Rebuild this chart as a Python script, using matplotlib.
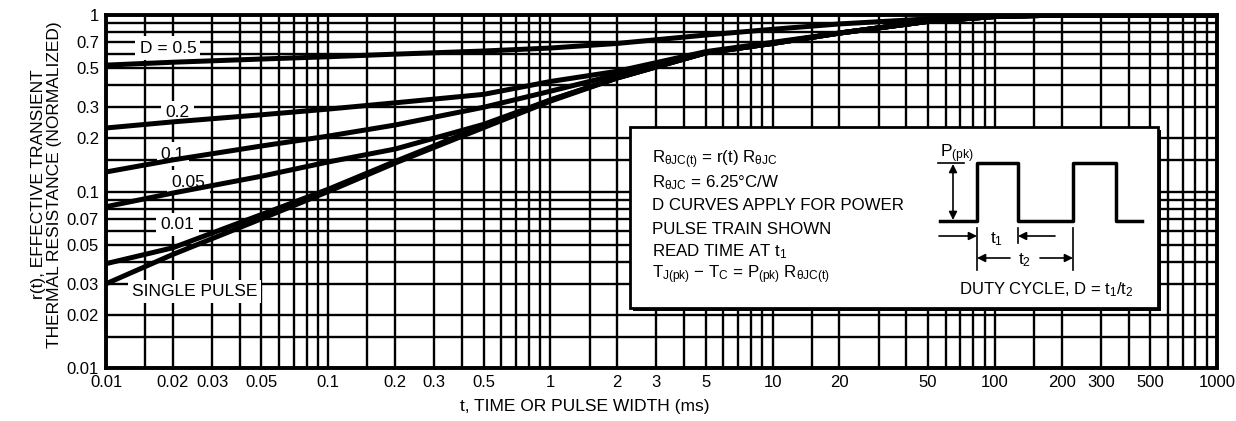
import numpy as np
import matplotlib.pyplot as plt
from matplotlib.ticker import NullFormatter
from matplotlib.patches import Rectangle

plt.rcParams['font.family'] = ['Liberation Sans', 'DejaVu Sans']
plt.rcParams['mathtext.fontset'] = 'custom'
plt.rcParams['mathtext.rm'] = 'Liberation Sans'
plt.rcParams['mathtext.it'] = 'Liberation Sans'
plt.rcParams['mathtext.default'] = 'rm'

# pulse width (ms) and normalized transient thermal resistance per duty cycle
pulse_ms = [0.01, 0.02, 0.05, 0.1, 0.2, 0.5, 1, 2, 5, 10, 20, 50, 100, 200, 500, 1000]
r_d050 = [0.52, 0.54, 0.563, 0.58, 0.60, 0.625, 0.65, 0.69, 0.77, 0.83, 0.89, 0.95, 0.985, 1.0, 1.0, 1.0]
r_d020 = [0.229, 0.248, 0.272, 0.293, 0.318, 0.355, 0.42, 0.48, 0.62, 0.70, 0.79, 0.92, 0.98, 1.0, 1.0, 1.0]
r_d010 = [0.129, 0.151, 0.181, 0.206, 0.238, 0.30, 0.37, 0.46, 0.61, 0.69, 0.79, 0.92, 0.98, 1.0, 1.0, 1.0]
r_d005 = [0.082, 0.098, 0.122, 0.147, 0.174, 0.24, 0.33, 0.44, 0.61, 0.69, 0.79, 0.92, 0.98, 1.0, 1.0, 1.0]
r_d001 = [0.039, 0.048, 0.074, 0.103, 0.148, 0.235, 0.33, 0.44, 0.61, 0.69, 0.79, 0.92, 0.98, 1.0, 1.0, 1.0]
r_single = [0.030, 0.044, 0.07, 0.10, 0.145, 0.23, 0.325, 0.44, 0.61, 0.69, 0.79, 0.92, 0.98, 1.0, 1.0, 1.0]

curve_labels = ['D = 0.5', '0.2', '0.1', '0.05', '0.01', 'SINGLE PULSE']
label_pos = [(0.019, 0.65), (0.021, 0.28), (0.020, 0.163), (0.0235, 0.113), (0.021, 0.065), (0.025, 0.0272)]

x_tick_values = [0.01, 0.02, 0.03, 0.05, 0.1, 0.2, 0.3, 0.5, 1, 2, 3, 5, 10, 20, 50, 100, 200, 300, 500, 1000]
x_tick_labels = ['0.01', '0.02', '0.03', '0.05', '0.1', '0.2', '0.3', '0.5', '1', '2', '3', '5',
                 '10', '20', '50', '100', '200', '300', '500', '1000']
y_tick_values = [0.01, 0.02, 0.03, 0.05, 0.07, 0.1, 0.2, 0.3, 0.5, 0.7, 1]
y_tick_labels = ['0.01', '0.02', '0.03', '0.05', '0.07', '0.1', '0.2', '0.3', '0.5', '0.7', '1']
grid_steps = [1, 1.5, 2, 3, 4, 5, 6, 7, 8, 9]

fig = plt.figure(figsize=(12.36, 4.21), dpi=100)
ax = fig.add_axes([106 / 1236, 1 - 368 / 421, 1111 / 1236, 353 / 421])
ax.set_xscale('log')
ax.set_yscale('log')
ax.set_xlim(0.01, 1000)
ax.set_ylim(0.01, 1)

x_grid = [s * 10.0 ** e for e in range(-2, 3) for s in grid_steps]
y_grid = [s * 10.0 ** e for e in range(-2, 0) for s in grid_steps]
ax.set_xticks(x_grid, minor=True)
ax.set_yticks(y_grid, minor=True)
ax.set_xticks(x_tick_values)
ax.set_xticklabels(x_tick_labels)
ax.set_yticks(y_tick_values)
ax.set_yticklabels(y_tick_labels)
ax.xaxis.set_minor_formatter(NullFormatter())
ax.yaxis.set_minor_formatter(NullFormatter())
ax.tick_params(which='both', length=0, labelsize=12)
ax.tick_params(axis='x', pad=5)
ax.tick_params(axis='y', pad=5)
ax.grid(which='both', color='black', linewidth=1.7)
ax.set_axisbelow(True)
for sp in ax.spines.values():
    sp.set_linewidth(2.8)

for r in [r_d050, r_d020, r_d010, r_d005, r_d001, r_single]:
    ax.plot(pulse_ms, r, color='black', linewidth=3.6, solid_capstyle='butt', zorder=3)

for text, (tx, ty) in zip(curve_labels, label_pos):
    ax.text(tx, ty, text, fontsize=12.5, ha='center', va='center', zorder=2,
            bbox=dict(facecolor='white', edgecolor='none', pad=3))

ax.set_xlabel('t, TIME OR PULSE WIDTH (ms)', fontsize=12.5)
ax.xaxis.set_label_coords(0.431, -0.088)
ax.set_ylabel('r(t), EFFECTIVE TRANSIENT\nTHERMAL RESISTANCE (NORMALIZED)', fontsize=12.5,
              linespacing=1.05)
ax.yaxis.set_label_coords(-0.04, 0.52)

# note box with the pulse train sketch, drawn in pixel units
ov = fig.add_axes([0, 0, 1, 1])
ov.set_xlim(0, 1236)
ov.set_ylim(421, 0)
ov.axis('off')
ov.add_patch(Rectangle((633, 130), 528, 181, facecolor='black', edgecolor='none'))
ov.add_patch(Rectangle((630, 127), 528, 181, facecolor='white', edgecolor='black', linewidth=2))

note_lines = [
    r'R$_{θJC(t)}$ = r(t) R$_{θJC}$',
    r'R$_{θJC}$ = 6.25°C/W',
    'D CURVES APPLY FOR POWER',
    'PULSE TRAIN SHOWN',
    r'READ TIME AT t$_{1}$',
    r'T$_{J(pk)}$ − T$_{C}$ = P$_{(pk)}$ R$_{θJC(t)}$',
]
for i, line in enumerate(note_lines):
    ov.text(652, 160 + i * 23, line, fontsize=12.2, ha='left', va='center')

wave_x = [940, 977, 977, 1018, 1018, 1073, 1073, 1116, 1116, 1142]
wave_y = [221, 221, 163, 163, 221, 221, 163, 163, 221, 221]
ov.plot(wave_x, wave_y, color='black', linewidth=2.5)
ov.plot([938, 964], [163, 163], color='black', linewidth=1.2)
ov.annotate('', xy=(953, 164), xytext=(953, 220),
            arrowprops=dict(arrowstyle='<|-|>', color='black', lw=1.2, mutation_scale=12,
                            shrinkA=0, shrinkB=0))
ov.text(940, 154, r'P$_{(pk)}$', fontsize=12.5, ha='left', va='center')

for x0, y0, y1 in [(977, 228, 270), (1018, 228, 243), (1073, 228, 270)]:
    ov.plot([x0, x0], [y0, y1], color='black', linewidth=1.2)
arrow = dict(arrowstyle='-|>', color='black', lw=1.2, mutation_scale=12, shrinkA=0, shrinkB=0)
ov.annotate('', xy=(977, 236), xytext=(939, 236), arrowprops=arrow)
ov.annotate('', xy=(1018, 236), xytext=(1055, 236), arrowprops=arrow)
ov.annotate('', xy=(977, 258), xytext=(1010, 258), arrowprops=arrow)
ov.annotate('', xy=(1073, 258), xytext=(1040, 258), arrowprops=arrow)
ov.text(997, 239, r't$_{1}$', fontsize=12.5, ha='center', va='center')
ov.text(1025, 260, r't$_{2}$', fontsize=12.5, ha='center', va='center')
ov.text(1046, 290, r'DUTY CYCLE, D = t$_{1}$/t$_{2}$', fontsize=12, ha='center', va='center')

fig.savefig('out.png', dpi=100)
